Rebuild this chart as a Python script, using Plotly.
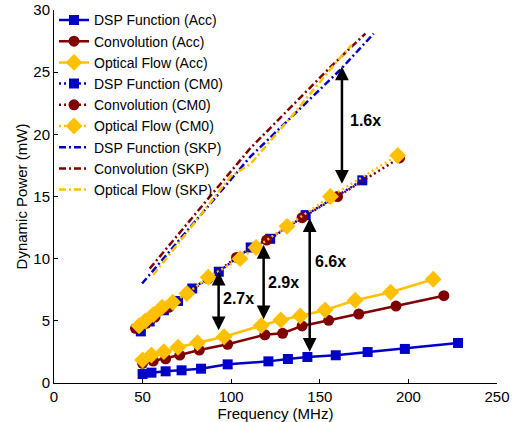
import plotly.graph_objects as go

# ---- Accelerator (Acc) measurements ----
dsp_acc_f = [50, 55, 63, 72, 83, 98, 121, 132, 143, 159, 177, 198, 228]
dsp_acc_p = [0.72, 0.83, 0.94, 1.02, 1.15, 1.5, 1.74, 1.93, 2.09, 2.23, 2.49, 2.74, 3.22]

conv_acc_f = [50, 56, 63, 71, 82, 98, 119, 129, 140, 155, 172, 193, 220]
conv_acc_p = [1.58, 1.77, 1.95, 2.25, 2.65, 3.11, 3.88, 4.0, 4.59, 5.04, 5.55, 6.19, 7.02]

flow_acc_f = [50, 55, 62, 70, 81, 96, 117, 128, 139, 153, 170, 190, 214]
flow_acc_p = [1.85, 2.25, 2.52, 2.87, 3.24, 3.72, 4.62, 5.07, 5.39, 5.87, 6.65, 7.3, 8.34]

# ---- Cortex-M0 (CM0) measurements ----
dsp_cm0_f = [49, 54, 62, 70, 78, 93, 111, 122, 142, 174]
dsp_cm0_p = [4.15, 4.95, 5.85, 6.6, 7.6, 8.95, 10.9, 11.6, 13.5, 16.3]

conv_cm0_f = [46, 52, 57, 61, 65, 75, 87, 103, 120, 140, 160, 195]
conv_cm0_p = [4.4, 4.8, 5.3, 5.9, 6.1, 7.2, 8.4, 10.1, 11.5, 13.3, 15.0, 18.1]

flow_cm0_f = [48, 51.5, 56, 61, 67, 75, 87, 105, 114, 131.5, 156, 194]
flow_cm0_p = [4.6, 5.0, 5.5, 6.1, 6.5, 7.2, 8.5, 10.0, 10.9, 12.6, 15.0, 18.3]

# ---- SKP measurements ----
dsp_skp_f = [49.7, 80, 110.8, 161.6, 180.4]
dsp_skp_p = [8.0, 13.1, 18.2, 25.2, 28.1]

conv_skp_f = [54, 80, 110.9, 155.9, 175.7]
conv_skp_p = [9.2, 13.6, 18.9, 25.4, 28.1]

flow_skp_f = [56, 75, 99.6, 110.8, 135, 158.7, 168]
flow_skp_p = [8.7, 12.1, 16.6, 17.6, 21.6, 25.7, 27.2]

# ---- speedup annotations ----
ratio_f = [92.9, 118.3, 144.3, 162.5]
ratio_top = [8.95, 11.1, 13.25, 25.45]
ratio_bot = [4.13, 5.0, 2.39, 15.9]
ratio_text = ["2.7x", "2.9x", "6.6x", "1.6x"]
ratio_label_f = [104.2, 129.6, 155.9, 175.7]
ratio_label_p = [6.76, 8.07, 9.8, 21.1]

BLUE = "#0000C8"
RED = "#800000"
GOLD = "#FFC000"
FONT = "Liberation Sans, Arial, Helvetica, sans-serif"
DASHDOT = "7px,3px,2px,3px"
DOT = "2px,3px"

fig = go.Figure()

def add(f, p, name, color, dash, symbol=None, msize=10):
    mode = "lines+markers" if symbol else "lines"
    fig.add_trace(go.Scatter(
        x=f, y=p, name=name, mode=mode,
        line=dict(color=color, width=2.5, dash=dash),
        marker=dict(symbol=symbol, size=msize, color=color, line=dict(width=0)) if symbol else None,
    ))

add(dsp_acc_f, dsp_acc_p, "DSP Function (Acc)", BLUE, "solid", "square", 10)
add(conv_acc_f, conv_acc_p, "Convolution (Acc)", RED, "solid", "circle", 11)
add(flow_acc_f, flow_acc_p, "Optical Flow (Acc)", GOLD, "solid", "diamond", 13)
add(dsp_cm0_f, dsp_cm0_p, "DSP Function (CM0)", BLUE, DOT, "square", 10)
add(conv_cm0_f, conv_cm0_p, "Convolution (CM0)", RED, DOT, "circle", 11)
add(flow_cm0_f, flow_cm0_p, "Optical Flow (CM0)", GOLD, DOT, "diamond", 13)
add(dsp_skp_f, dsp_skp_p, "DSP Function (SKP)", BLUE, DASHDOT)
add(conv_skp_f, conv_skp_p, "Convolution (SKP)", RED, DASHDOT)
add(flow_skp_f, flow_skp_p, "Optical Flow (SKP)", GOLD, DASHDOT)

for f, top, bot, txt, lf, lp in zip(ratio_f, ratio_top, ratio_bot, ratio_text,
                                    ratio_label_f, ratio_label_p):
    fig.add_annotation(
        x=f, y=top, ax=f, ay=bot, xref="x", yref="y", axref="x", ayref="y",
        text="", showarrow=True, arrowhead=2, startarrowhead=2,
        arrowside="end+start", arrowsize=1.1, startarrowsize=1.1,
        arrowwidth=2.5, arrowcolor="black",
    )
    fig.add_annotation(
        x=lf, y=lp, xref="x", yref="y", text="<b>" + txt + "</b>",
        showarrow=False, font=dict(family=FONT, size=16, color="black"),
    )

axis_common = dict(
    showline=True, linecolor="black", linewidth=1, mirror=False,
    ticks="inside", ticklen=4, tickcolor="black", showgrid=False, zeroline=False,
    tickfont=dict(family=FONT, size=15, color="black"), automargin=False,
)

fig.update_layout(
    width=513, height=422,
    margin=dict(l=54, r=16, t=10, b=39, autoexpand=False),
    paper_bgcolor="white", plot_bgcolor="white",
    font=dict(family=FONT, color="black"),
    showlegend=True,
    legend=dict(
        x=0.0, y=1.015, xanchor="left", yanchor="top",
        bgcolor="rgba(0,0,0,0)", borderwidth=0,
        font=dict(family=FONT, size=14, color="black"),
        tracegroupgap=0, itemwidth=30,
    ),
    xaxis=dict(range=[0, 250], tick0=0, dtick=50,
               title=dict(text="Frequency (MHz)", font=dict(family=FONT, size=15), standoff=0),
               **axis_common),
    yaxis=dict(range=[0, 30], tick0=0, dtick=5,
               title=dict(text="Dynamic Power (mW)", font=dict(family=FONT, size=15), standoff=2),
               **axis_common),
)

fig.write_html("out.html")
